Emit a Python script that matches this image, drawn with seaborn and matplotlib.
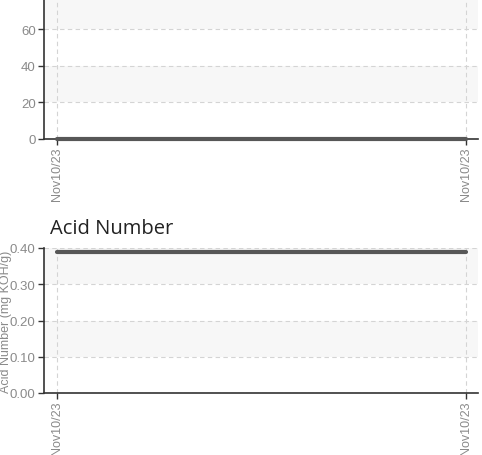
import matplotlib
matplotlib.use("Agg")
import matplotlib.pyplot as plt
import seaborn as sns
import pandas as pd

# data
sample_dates = ["Nov10/23", "Nov10/23"]
top_values = [0, 0]
acid_values = [0.39, 0.39]
top_yticks = [0, 20, 40, 60]
top_band_edges = [0, 20, 40, 60, 80, 100]
acid_yticks = [0.0, 0.1, 0.2, 0.3, 0.4]
acid_title = "Acid Number"
acid_ylabel = "Acid Number (mg KOH/g)"

sns.set_theme(style="white")
plt.rcParams['font.family'] = ['Liberation Sans', 'DejaVu Sans']

fig = plt.figure(figsize=(4.82, 4.56), dpi=100)
W, H = 482, 456

def px_axes(left, right, top, bottom):
    return fig.add_axes([left / W, (H - bottom) / H, (right - left) / W, (bottom - top) / H])

LINE_C = "#575757"
TICK_C = "#8a8a8a"
BAND_C = "#f7f7f7"
GRID_C = "#d4d4d4"

def style(ax, yticks, bands, fmt, ylim):
    ax.set_ylim(*ylim)
    ax.set_xlim(-0.032, 1.029)
    for i in range(len(bands) - 1):
        if i % 2 == 1:
            ax.axhspan(bands[i], bands[i + 1], color=BAND_C, zorder=0, lw=0)
    for b in bands:
        ax.axhline(b, color=GRID_C, linestyle=(0, (4, 3)), linewidth=0.8, zorder=0.5)
    ax.set_yticks(yticks)
    ax.set_yticklabels([fmt(v) for v in yticks])
    ax.set_xticks(range(len(sample_dates)))
    ax.set_xticklabels(sample_dates, rotation=90)
    ax.grid(True, axis="x", color=GRID_C, linestyle=(0, (4, 3)), linewidth=0.8)
    ax.grid(False, axis="y")
    ax.set_axisbelow(True)
    for s in ["top", "right"]:
        ax.spines[s].set_visible(False)
    for s in ["left", "bottom"]:
        ax.spines[s].set_color("#333333")
        ax.spines[s].set_linewidth(1.2)
    ax.tick_params(axis="both", which="major", length=4, width=1, color="#333333",
                   labelcolor=TICK_C, labelsize=9.5, direction="out", pad=2,
                   left=True, bottom=True)
    ax.tick_params(axis="x", labelsize=9, pad=1.5)
    ax.set_xlabel("")
    ax.set_ylabel("")

# top chart (partially cut off at figure top)
ax1 = px_axes(44, 478, 140 - 100 * 1.828, 140)
df1 = pd.DataFrame({"x": range(len(top_values)), "y": top_values})
sns.lineplot(data=df1, x="x", y="y", ax=ax1, color=LINE_C, linewidth=3, zorder=3)
style(ax1, top_yticks, top_band_edges, lambda v: f"{v:d}", (0, 100))
ax1.lines[0].set_clip_on(False)

# bottom chart
ax2 = px_axes(44, 478, 249, 394)
df2 = pd.DataFrame({"x": range(len(acid_values)), "y": acid_values})
sns.lineplot(data=df2, x="x", y="y", ax=ax2, color=LINE_C, linewidth=3, zorder=3)
style(ax2, acid_yticks, acid_yticks, lambda v: f"{v:.2f}", (0, 0.4))
ax2.set_ylabel(acid_ylabel, fontsize=9, color=TICK_C, labelpad=1)
ax2.yaxis.set_label_coords(-32 / 434, 0.5)

fig.text(50 / W, (H - 234) / H, acid_title, fontsize=14.5, color="#222222",
         family=["Open Sans", "DejaVu Sans"], ha="left", va="baseline")

fig.savefig("out.png", dpi=100)
